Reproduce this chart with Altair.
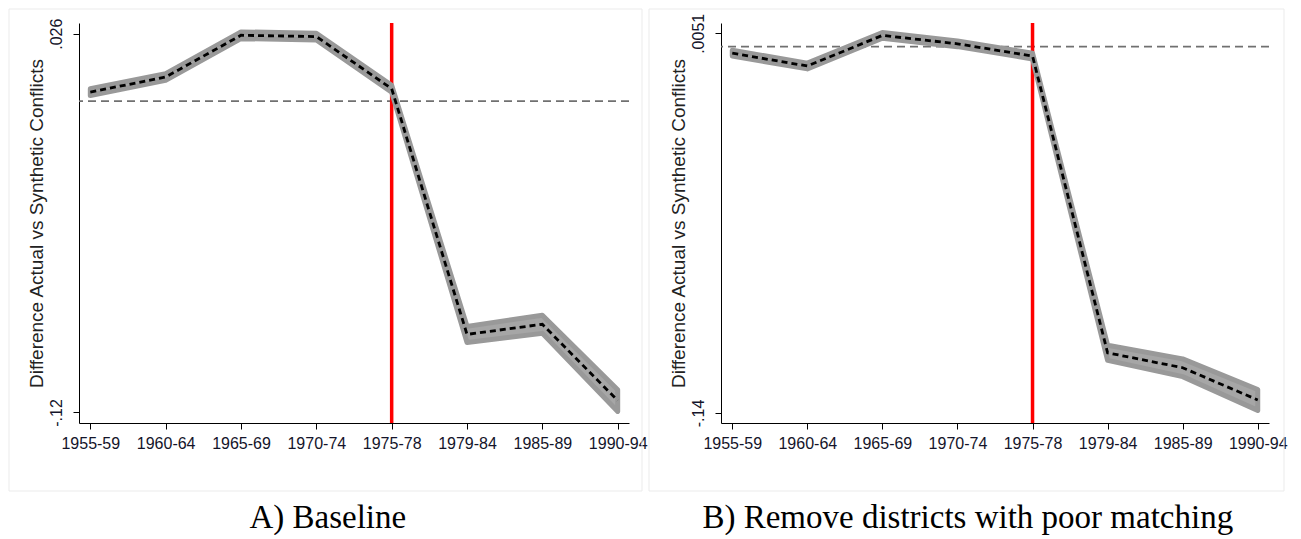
import altair as alt
import pandas as pd

periods = ["1955-59", "1960-64", "1965-69", "1970-74", "1975-78", "1979-84", "1985-89", "1990-94"]
treatment_period = "1975-78"
zero_line = [0.0]

# Panel A: Baseline
a_values = [0.0035, 0.0093, 0.0254, 0.0249, 0.0048, -0.0899, -0.0860, -0.1154]
a_lo = [0.0022, 0.0080, 0.0241, 0.0236, 0.0035, -0.0930, -0.0895, -0.1196]
a_hi = [0.0048, 0.0106, 0.0267, 0.0262, 0.0061, -0.0868, -0.0825, -0.1112]
a_ticks = [-0.12, 0.026]
a_domain = [-0.12405, 0.03013]

# Panel B: Remove districts with poor matching
b_values = [-0.0025, -0.0074, 0.0043, 0.0011, -0.0036, -0.1170, -0.1227, -0.1350]
b_lo = [-0.0036, -0.0085, 0.0032, 0.0000, -0.0047, -0.1199, -0.1261, -0.1390]
b_hi = [-0.0014, -0.0063, 0.0054, 0.0022, -0.0025, -0.1141, -0.1193, -0.1310]
b_ticks = [-0.14, 0.0051]
b_domain = [-0.14382, 0.00904]

y_title = "Difference Actual vs Synthetic Conflicts"
SANS = "Liberation Sans, Arial, sans-serif"
SERIF = "Liberation Serif, Times New Roman, serif"


def panel(values, lo, hi, ticks, domain, caption, width, frame_left, frame_right):
    df = pd.DataFrame({"period": periods, "value": values, "lo": lo, "hi": hi})
    xscale = alt.Scale(type="point", padding=0.15)
    yscale = alt.Scale(domain=domain, nice=False, zero=False)
    xenc = alt.X(
        "period:O", sort=periods, scale=xscale, title=None,
        axis=alt.Axis(labelAngle=0, labelFontSize=16, labelFont=SANS, labelColor="#14142a",
                      tickSize=6, labelPadding=6, domainColor="#000", tickColor="#000"),
    )
    yaxis = alt.Axis(
        values=ticks,
        labelExpr="replace(replace(format(datum.value, '.4~f'), '0.', '.'), '\u2212', '-')",
        labelAngle=270, labelAlign="center", labelBaseline="bottom",
        labelFontSize=16, labelFont=SANS, labelColor="#14142a", labelPadding=9,
        tickSize=6, domainColor="#000", tickColor="#000",
        title=y_title, titleFont=SANS, titleFontSize=19, titleFontWeight="normal",
        titleColor="#222", titlePadding=2,
    )

    frame = alt.Chart(alt.Data(values=[{"f": 1}])).mark_rect(
        fillOpacity=0, stroke="#ebebeb", strokeWidth=1
    ).encode(
        x=alt.value(frame_left), x2=alt.value(frame_right),
        y=alt.value(-14), y2=alt.value(468),
    )
    zero = alt.Chart(pd.DataFrame({"y": zero_line})).mark_rule(
        color="#707070", strokeWidth=1.6, strokeDash=[8, 5]
    ).encode(y=alt.Y("y:Q", scale=yscale, axis=yaxis))
    red = alt.Chart(pd.DataFrame({"period": [treatment_period]})).mark_rule(
        color="#ff0000", strokeWidth=3.5
    ).encode(x=xenc)
    band = alt.Chart(df).mark_area(
        fill="#a6a6a6", stroke="#999999", strokeWidth=5, strokeJoin="round"
    ).encode(x=xenc, y=alt.Y("lo:Q", scale=yscale, axis=yaxis), y2="hi:Q")
    line = alt.Chart(df).mark_line(
        color="#000", strokeWidth=2.8, strokeDash=[6, 4]
    ).encode(x=xenc, y=alt.Y("value:Q", scale=yscale, axis=yaxis))

    return alt.layer(frame, zero, red, band, line).properties(
        width=width, height=400,
        title=alt.TitleParams(
            caption, orient="bottom", anchor="middle", frame="bounds",
            font=SERIF, fontSize=33, fontWeight="normal", color="#000", offset=10,
        ),
    )


pa = panel(a_values, a_lo, a_hi, a_ticks, a_domain, "A) Baseline", 550, -70, 563)
pb = panel(b_values, b_lo, b_hi, b_ticks, b_domain,
           "B) Remove districts with poor matching", 548, -72, 563)

chart = alt.hconcat(pa, pb, spacing=0).properties(
    padding=0, background="#ffffff"
).configure_view(stroke=None).configure_axis(grid=False)

chart.save("out.html", embed_options={"renderer": "svg", "actions": False})
